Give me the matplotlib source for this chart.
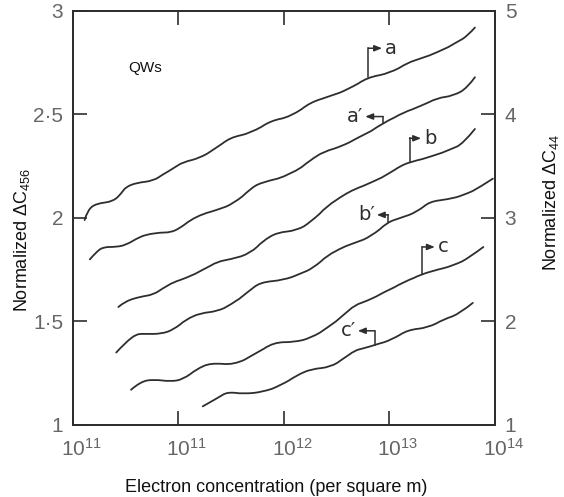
import numpy as np
import matplotlib.pyplot as plt
from matplotlib.ticker import NullLocator
from matplotlib.path import Path
from matplotlib.patches import PathPatch
from matplotlib.transforms import ScaledTranslation

plt.rcParams['font.family'] = ['Liberation Sans', 'DejaVu Sans']
plt.rcParams['mathtext.fontset'] = 'custom'
plt.rcParams['mathtext.rm'] = 'Liberation Sans'
plt.rcParams['mathtext.it'] = 'Liberation Sans:italic'
plt.rcParams['mathtext.bf'] = 'Liberation Sans:bold'

# log10(electron concentration) and normalized delta C (left-axis scale)
a_logn = [10.11, 10.14, 10.22, 10.38, 10.46, 10.50, 10.60, 10.76, 10.85, 10.95,
          11.04, 11.20, 11.33, 11.49, 11.68, 11.87, 12.06, 12.25, 12.44, 12.60,
          12.79, 13.00, 13.17, 13.29, 13.45, 13.64, 13.74, 13.81]
a_val = [1.99, 2.04, 2.07, 2.08, 2.12, 2.15, 2.17, 2.18, 2.21, 2.24,
         2.27, 2.29, 2.33, 2.39, 2.41, 2.47, 2.49, 2.56, 2.59, 2.62,
         2.68, 2.70, 2.75, 2.77, 2.80, 2.85, 2.88, 2.92]

a2_logn = [10.16, 10.21, 10.28, 10.41, 10.50, 10.60, 10.69, 10.83, 10.92, 11.01,
           11.11, 11.23, 11.37, 11.52, 11.68, 11.77, 12.06, 12.25, 12.37, 12.56,
           12.67, 12.94, 13.13, 13.29, 13.45, 13.60, 13.74, 13.81]
a2_val = [1.80, 1.83, 1.86, 1.86, 1.87, 1.90, 1.92, 1.93, 1.93, 1.95,
          1.99, 2.02, 2.04, 2.07, 2.14, 2.17, 2.21, 2.28, 2.32, 2.35,
          2.38, 2.46, 2.51, 2.54, 2.58, 2.59, 2.63, 2.68]

b_logn = [10.43, 10.50, 10.64, 10.76, 10.85, 10.95, 11.07, 11.23, 11.37, 11.49,
          11.68, 11.80, 11.93, 12.12, 12.25, 12.41, 12.56, 12.67, 12.82, 13.01,
          13.10, 13.19, 13.41, 13.57, 13.70, 13.81]
b_val = [1.57, 1.60, 1.62, 1.63, 1.66, 1.69, 1.71, 1.75, 1.79, 1.80,
         1.83, 1.89, 1.93, 1.94, 1.98, 2.06, 2.11, 2.14, 2.17, 2.22,
         2.25, 2.27, 2.30, 2.33, 2.36, 2.43]

b2_logn = [10.41, 10.50, 10.60, 10.69, 10.83, 10.95, 11.07, 11.20, 11.37, 11.49,
           11.65, 11.77, 11.99, 12.15, 12.28, 12.41, 12.56, 12.67, 12.82, 12.98,
           13.10, 13.26, 13.38, 13.55, 13.70, 13.86, 13.98]
b2_val = [1.35, 1.40, 1.44, 1.44, 1.44, 1.46, 1.51, 1.54, 1.55, 1.58,
          1.64, 1.69, 1.70, 1.73, 1.76, 1.82, 1.86, 1.88, 1.91, 1.98,
          2.00, 2.03, 2.08, 2.09, 2.11, 2.15, 2.19]

c_logn = [10.55, 10.64, 10.76, 10.92, 11.04, 11.17, 11.30, 11.52, 11.71, 11.90,
          12.09, 12.25, 12.41, 12.56, 12.67, 12.79, 12.94, 13.13, 13.31, 13.45,
          13.60, 13.76, 13.89]
c_val = [1.17, 1.21, 1.22, 1.21, 1.22, 1.27, 1.30, 1.29, 1.34, 1.40,
         1.40, 1.42, 1.47, 1.53, 1.58, 1.60, 1.64, 1.69, 1.73, 1.75,
         1.77, 1.81, 1.86]

c2_logn = [11.23, 11.37, 11.46, 11.61, 11.80, 11.96, 12.12, 12.25, 12.44, 12.56,
           12.67, 12.75, 12.88, 13.01, 13.17, 13.36, 13.51, 13.67, 13.79]
c2_val = [1.09, 1.13, 1.16, 1.15, 1.16, 1.19, 1.24, 1.27, 1.28, 1.32,
          1.36, 1.37, 1.39, 1.41, 1.46, 1.47, 1.51, 1.54, 1.59]

xtick_pos = [1e10, 1e11, 1e12, 1e13, 1e14]
xtick_labels = [r'$\mathregular{10^{11}}$', r'$\mathregular{10^{11}}$',
                r'$\mathregular{10^{12}}$', r'$\mathregular{10^{13}}$',
                r'$\mathregular{10^{14}}$']
left_ticks = [1, 1.5, 2, 2.5, 3]
left_labels = ['1', '1·5', '2', '2·5', '3']
right_ticks = [1, 2, 3, 4, 5]

ink = '#2e2e2e'
grey = '#666666'

fig = plt.figure(figsize=(5.64, 4.97), dpi=100)
ax = fig.add_axes([0.1294, 0.1449, 0.7482, 0.833])


def smooth_curve(xs, ys):
    # quadratic bezier through the midpoints, the read points act as controls
    pts = np.column_stack([10 ** np.array(xs), ys])
    verts = [pts[0]]
    codes = [Path.MOVETO]
    for i in range(1, len(pts) - 1):
        mid = (pts[i] + pts[i + 1]) / 2 if i < len(pts) - 2 else pts[i + 1]
        verts += [pts[i], mid]
        codes += [Path.CURVE3, Path.CURVE3]
    patch = PathPatch(Path(verts, codes), fill=False, edgecolor=ink, lw=1.3,
                      capstyle='round', joinstyle='round')
    ax.add_patch(patch)


curves = [(a_logn, a_val), (a2_logn, a2_val), (b_logn, b_val),
          (b2_logn, b2_val), (c_logn, c_val), (c2_logn, c2_val)]
for xs, ys in curves:
    smooth_curve(xs, ys)

ax.set_xscale('log')
ax.set_xlim(1e10, 1e14)
ax.set_ylim(1, 3)
ax.set_xticks(xtick_pos)
ax.set_xticklabels(xtick_labels)
ax.xaxis.set_minor_locator(NullLocator())
ax.set_yticks(left_ticks)
ax.set_yticklabels(left_labels)
ax.tick_params(axis='both', direction='in', length=10, width=1.2,
               colors=ink, labelcolor=grey, labelsize=15)
ax.tick_params(axis='x', top=True, pad=9)
ax.tick_params(axis='y', pad=7)

# the printed exponent labels sit a little right of their ticks
shift = ScaledTranslation(6 / 72, 0, fig.dpi_scale_trans)
for lab in ax.get_xticklabels():
    lab.set_transform(lab.get_transform() + shift)

ax2 = ax.twinx()
ax2.set_ylim(1, 5)
ax2.set_yticks(right_ticks)
ax2.tick_params(axis='y', direction='in', length=10, width=1.2,
                colors=ink, labelcolor=grey, labelsize=15, pad=7)

for a_ in (ax, ax2):
    for s in a_.spines.values():
        s.set_linewidth(1.3)
        s.set_color(ink)

ax.set_xlabel('Electron concentration (per square m)', fontsize=13,
              color='#111111')
ax.xaxis.set_label_coords(0.481, -0.13)
ax.set_ylabel(r'Normalized $\Delta$C$_{456}$', fontsize=13, color='#111111')
ax.yaxis.set_label_coords(-0.098, 0.447)
ax2.set_ylabel(r'Normalized $\Delta$C$_{44}$', fontsize=13, color='#111111')
ax2.yaxis.set_label_coords(1.11, 0.536)

ax.text(10 ** 10.52, 2.725, 'QWs', fontsize=11, color='#111111',
        ha='left', va='center')


def bracket(xs, ys, x, y_top, x_tip, label, right=True):
    y0 = np.interp(x, xs, ys)
    ax.plot([10 ** x, 10 ** x], [y0, y_top], color=ink, lw=1.1)
    ax.annotate('', xy=(10 ** x_tip, y_top), xytext=(10 ** x, y_top),
                arrowprops=dict(arrowstyle='-|>,head_length=0.45,head_width=0.18',
                                color=ink, lw=1.1, shrinkA=0, shrinkB=0))
    if right:
        ax.text(10 ** (x_tip + 0.03), y_top, label, fontsize=14, color=ink,
                ha='left', va='center', family=['DejaVu Sans'])
    else:
        ax.text(10 ** (x_tip - 0.02), y_top, label, fontsize=14, color=ink,
                ha='right', va='center', family=['DejaVu Sans'])


bracket(a_logn, a_val, 12.80, 2.82, 12.93, 'a')
bracket(a2_logn, a2_val, 12.94, 2.49, 12.77, 'a′', right=False)
bracket(b_logn, b_val, 13.19, 2.385, 13.30, 'b')
bracket(b2_logn, b2_val, 12.99, 2.015, 12.88, 'b′', right=False)
bracket(c_logn, c_val, 13.31, 1.86, 13.43, 'c')
bracket(c2_logn, c2_val, 12.86, 1.455, 12.70, 'c′', right=False)

fig.savefig('out.png', dpi=100)
